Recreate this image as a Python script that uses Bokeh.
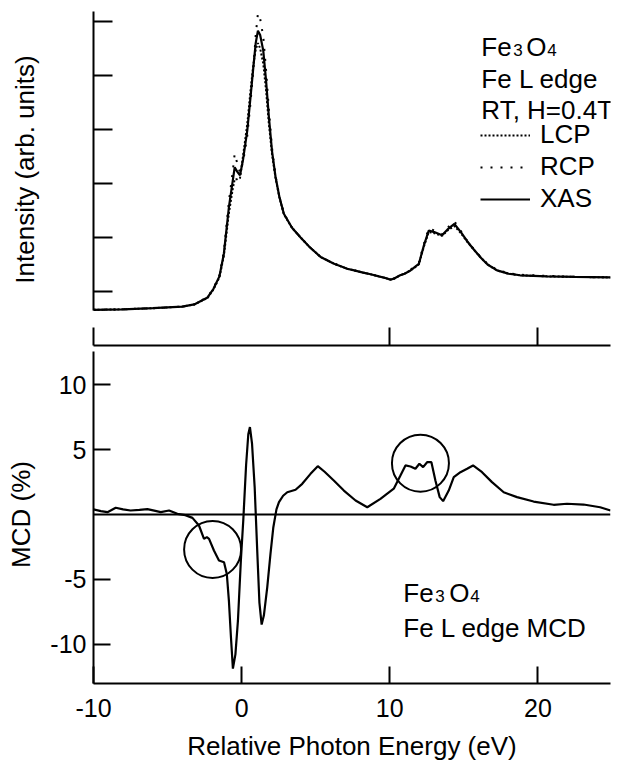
from bokeh.plotting import figure
from bokeh.models import (Range1d, LinearAxis, FixedTicker, Span, Label, Legend,
                          CustomLabelingPolicy)
from bokeh.layouts import column
from bokeh.embed import file_html
from bokeh.resources import INLINE

# ---------------- data ----------------
energy_xas = [-10, -8, -6, -4, -3.2, -2.3, -1.9, -1.5, -1.2, -0.86, -0.6, -0.47, -0.3, -0.11,
              0.1, 0.38, 0.6, 0.79, 0.95, 1.1, 1.25, 1.46, 1.65, 1.84, 2.05, 2.29, 2.55, 2.85,
              3.4, 3.98, 4.6, 5.33, 6.2, 7.13, 7.6, 8.2, 8.7, 9.26, 9.7, 10.05, 10.3, 10.7,
              11.0, 11.4, 11.96, 12.3, 12.63, 13.0, 13.53, 13.9, 14.36, 14.8, 15.2, 15.6, 16.1,
              16.6, 17.24, 18.0, 18.8, 20.6, 22.5, 24.9]
xas = [0.66, 0.67, 0.69, 0.72, 0.76, 0.89, 1.05, 1.28, 1.70, 2.56, 3.05, 3.30, 3.22, 3.15,
       3.45, 3.98, 4.60, 5.15, 5.60, 5.83, 5.75, 5.46, 4.90, 4.23, 3.60, 3.12, 2.75, 2.44,
       2.18, 2.00, 1.82, 1.64, 1.52, 1.42, 1.39, 1.35, 1.32, 1.28, 1.25, 1.22, 1.24, 1.30,
       1.33, 1.39, 1.51, 1.85, 2.13, 2.10, 2.04, 2.15, 2.25, 2.10, 1.94, 1.80, 1.64,
       1.50, 1.39, 1.33, 1.30, 1.28, 1.27, 1.26]
lcp = [0.66, 0.67, 0.69, 0.72, 0.76, 0.88, 1.04, 1.26, 1.66, 2.45, 2.90, 3.08, 3.08, 3.10,
       3.52, 4.10, 4.72, 5.20, 5.48, 5.60, 5.50, 5.22, 4.72, 4.10, 3.55, 3.10, 2.74, 2.43,
       2.18, 2.00, 1.82, 1.64, 1.52, 1.42, 1.39, 1.35, 1.32, 1.28, 1.25, 1.22, 1.24, 1.30,
       1.33, 1.39, 1.50, 1.83, 2.10, 2.08, 2.03, 2.13, 2.21, 2.08, 1.93, 1.80, 1.64,
       1.50, 1.39, 1.33, 1.30, 1.28, 1.27, 1.26]
rcp = [0.66, 0.67, 0.69, 0.72, 0.76, 0.90, 1.06, 1.30, 1.74, 2.67, 3.22, 3.55, 3.38, 3.20,
       3.40, 3.88, 4.50, 5.12, 5.75, 6.15, 6.05, 5.72, 5.10, 4.36, 3.66, 3.14, 2.76, 2.45,
       2.18, 2.00, 1.82, 1.64, 1.52, 1.42, 1.39, 1.35, 1.32, 1.28, 1.25, 1.22, 1.24, 1.30,
       1.33, 1.40, 1.53, 1.88, 2.17, 2.13, 2.06, 2.18, 2.30, 2.12, 1.95, 1.81, 1.65,
       1.51, 1.40, 1.34, 1.31, 1.29, 1.27, 1.26]

energy_mcd = [-10.0, -9.5, -9.06, -8.5, -8.0, -7.5, -6.9, -6.36, -5.9, -5.46, -4.9, -4.34, -3.8,
              -3.32, -2.88, -2.54, -2.35, -2.2, -1.87, -1.53, -1.19, -1.0, -0.86, -0.72, -0.59,
              -0.42, -0.25, -0.05, 0.11, 0.3, 0.45, 0.56, 0.7, 0.88, 1.06, 1.2, 1.35, 1.5, 1.73,
              1.95, 2.14, 2.35, 2.52, 2.8, 3.08, 3.64, 4.09, 4.65, 5.14, 5.6, 6.22, 6.9, 7.69,
              8.48, 9.37, 10.27, 10.72, 11.06, 11.4, 11.73, 12.0, 12.25, 12.52, 12.81, 13.08,
              13.37, 13.6, 13.98, 14.32, 14.77, 15.22, 15.62, 16.23, 16.9, 17.69, 18.59, 19.71,
              21.06, 21.96, 23.08, 24.2, 24.9]
mcd = [0.40, 0.26, 0.18, 0.52, 0.40, 0.31, 0.36, 0.41, 0.30, 0.18, 0.31, 0.05, -0.05,
       -0.26, -0.85, -1.88, -1.75, -1.88, -2.78, -3.55, -3.69, -4.6, -6.65, -9.5, -11.9,
       -10.8, -8.2, -3.5, -0.46, 3.8, 6.2, 6.75, 5.5, 2.1, -3.0, -6.8, -8.5, -7.8, -5.6,
       -3.0, -0.98, 0.4, 0.95, 1.45, 1.72, 1.91, 2.37, 3.14, 3.73, 3.3, 2.63, 1.85, 1.08,
       0.56, 1.21, 1.99, 3.01, 3.79, 3.71, 3.53, 3.92, 3.66, 4.04, 4.04, 2.63,
       1.34, 1.03, 1.85, 2.88, 3.27, 3.53, 3.79, 3.27, 2.5, 1.72, 1.34, 1.0,
       0.75, 0.83, 0.77, 0.56, 0.31]

circle_energy = [-1.96, 12.07]
circle_mcd = [-2.7, 3.96]

top_yticks = [1, 2, 3, 4, 5, 6]
mid_xticks = [-10, 10, 20]
bottom_xticks = [-10, 0, 10, 20]
bottom_xlabels = {-10: "-10", 0: "0", 10: "10", 20: "20"}
mcd_yticks = [-10, -5, 5, 10]
mcd_ylabels = {-10: "-10", -5: "-5", 5: "5", 10: "10"}

# ---------------- style ----------------
FONT = "Liberation Sans"
LW = 2.2
x_range = Range1d(-10, 24.9)
NO_LABELS = CustomLabelingPolicy(code="""
for (const i of Array.from(indices)) { indices.unset(i) }
return indices
""")


def style_axis(ax, tick_in, label_size="25px"):
    ax.major_tick_in = tick_in
    ax.major_tick_out = 0
    ax.minor_tick_in = 0
    ax.minor_tick_out = 0
    ax.axis_line_width = 2
    ax.major_tick_line_width = 2
    ax.axis_line_color = "black"
    ax.major_tick_line_color = "black"
    ax.major_label_text_font = FONT
    ax.major_label_text_font_size = label_size
    ax.major_label_text_color = "black"
    ax.axis_label_text_font = FONT
    ax.axis_label_text_font_size = "26px"
    ax.axis_label_text_font_style = "normal"
    ax.axis_label_text_color = "black"


# ---------------- top panel (XAS) ----------------
top = figure(frame_width=517, frame_height=316, x_range=x_range, y_range=Range1d(0.333, 6.185),
             x_axis_location=None, y_axis_location=None, output_backend="svg",
             toolbar_location=None, min_border_left=93, min_border_right=8,
             min_border_top=11, min_border_bottom=0, outline_line_color=None)
top.grid.visible = False

ya_top = LinearAxis(ticker=FixedTicker(ticks=top_yticks), bounds=(0.65, 6.185),
                    axis_label="Intensity (arb. units)", major_label_policy=NO_LABELS)
style_axis(ya_top, 19, label_size="0px")
ya_top.major_label_standoff = 0
ya_top.axis_label_standoff = 54
top.add_layout(ya_top, "left")

r_lcp = top.line(energy_xas, lcp, line_color="black", line_width=2, line_dash="2 2")
r_rcp = top.line(energy_xas, rcp, line_color="black", line_width=2, line_dash="2 8")
r_xas = top.line(energy_xas, xas, line_color="black", line_width=LW)

legend = Legend(items=[("LCP", [r_lcp]), ("RCP", [r_rcp]), ("XAS", [r_xas])],
                location=(387, 113), label_text_font=FONT, label_text_font_size="26px",
                label_text_color="black",
                glyph_width=50, glyph_height=20, label_standoff=10, spacing=1,
                padding=0, margin=0, border_line_alpha=0, background_fill_alpha=0)
top.add_layout(legend)

TXT = dict(text_font=FONT, text_color="black", text_baseline="alphabetic", text_align="left")
top_x = 16.18
top.add_layout(Label(x=top_x, y=5.524, text="Fe", text_font_size="26px", **TXT))
top.add_layout(Label(x=top_x, y=5.469, x_offset=32, text="3", text_font_size="17px", **TXT))
top.add_layout(Label(x=top_x, y=5.524, x_offset=45, text="O", text_font_size="26px", **TXT))
top.add_layout(Label(x=top_x, y=5.469, x_offset=66, text="4", text_font_size="17px", **TXT))
top.add_layout(Label(x=top_x, y=4.941, text="Fe L edge", text_font_size="26px", **TXT))
top.add_layout(Label(x=top_x, y=4.357, text="RT, H=0.4T", text_font_size="26px", **TXT))

# ---------------- bottom panel (MCD) ----------------
bot = figure(frame_width=517, frame_height=338, x_range=x_range, y_range=Range1d(-13.05, 13.05),
             x_axis_location=None, y_axis_location=None, output_backend="svg",
             toolbar_location=None, min_border_left=93, min_border_right=8,
             min_border_top=18, min_border_bottom=0, outline_line_color=None)
bot.grid.visible = False

ax_mid = LinearAxis(ticker=FixedTicker(ticks=mid_xticks), major_label_policy=NO_LABELS)
style_axis(ax_mid, 0, label_size="0px")
ax_mid.major_tick_out = 18
ax_mid.major_label_standoff = 0
bot.add_layout(ax_mid, "above")

ax_bot = LinearAxis(ticker=FixedTicker(ticks=bottom_xticks), axis_label="Relative Photon Energy (eV)",
                    major_label_overrides=bottom_xlabels)
style_axis(ax_bot, 17)
ax_bot.major_label_standoff = 15
ax_bot.axis_label_standoff = 11
bot.add_layout(ax_bot, "below")

ay_bot = LinearAxis(ticker=FixedTicker(ticks=mcd_yticks), bounds=(-13.05, 12.6), axis_label="MCD (%)",
                    major_label_overrides=mcd_ylabels)
style_axis(ay_bot, 17)
ay_bot.major_label_standoff = 7
ay_bot.axis_label_standoff = 11
bot.add_layout(ay_bot, "left")

bot.add_layout(Span(location=0, dimension="width", line_color="black", line_width=2))
bot.line(energy_mcd, mcd, line_color="black", line_width=LW)
bot.scatter(circle_energy, circle_mcd, marker="circle", size=57, fill_color=None,
            line_color="black", line_width=2)

bot_x = 10.91
bot.add_layout(Label(x=bot_x, y=-6.10, text="Fe", text_font_size="26px", **TXT))
bot.add_layout(Label(x=bot_x, y=-6.33, x_offset=32, text="3", text_font_size="17px", **TXT))
bot.add_layout(Label(x=bot_x, y=-6.10, x_offset=46, text="O", text_font_size="26px", **TXT))
bot.add_layout(Label(x=bot_x, y=-6.33, x_offset=67, text="4", text_font_size="17px", **TXT))
bot.add_layout(Label(x=bot_x, y=-8.80, text="Fe L edge MCD", text_font_size="26px", **TXT))

p = column(top, bot)
open("out.html", "w").write(file_html(p, INLINE, "Fe3O4 XAS and MCD"))
